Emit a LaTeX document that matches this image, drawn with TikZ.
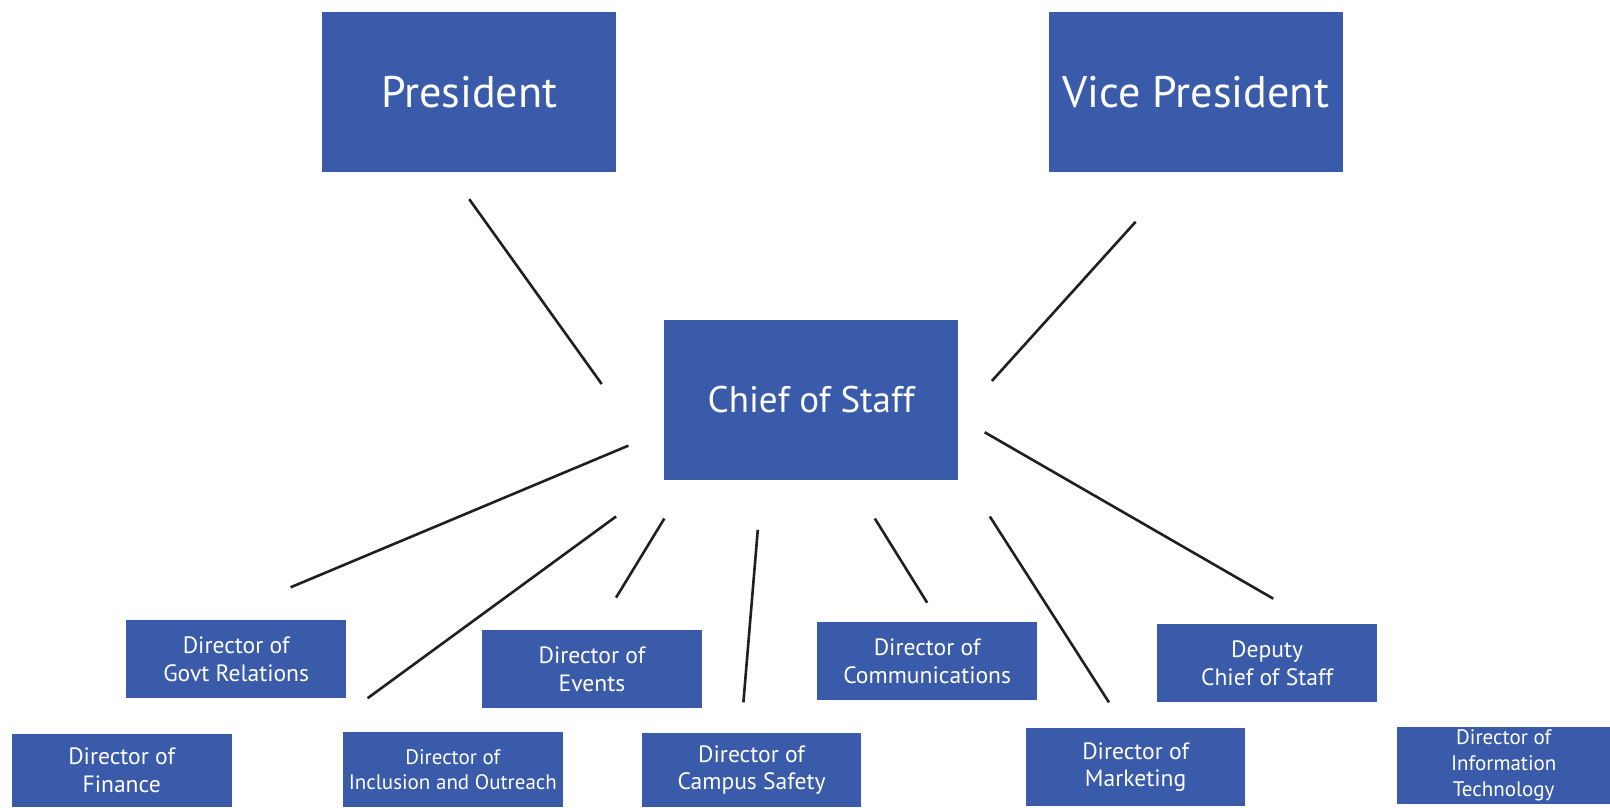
\documentclass[tikz,border=0pt]{standalone}
\usepackage{fontspec}
\setmainfont{PT Sans}
\definecolor{boxblue}{RGB}{58,91,169}

\begin{document}
\begin{tikzpicture}[x=1.0268pt,y=-1.0268pt,
    bigbox/.style={fill=boxblue, text=white, minimum width=293.7pt, minimum height=159.2pt,
      inner sep=0pt, align=center, font=\fontsize{44.2}{51}\selectfont},
    smallbox/.style={fill=boxblue, text=white, minimum width=219.7pt, minimum height=78pt,
      inner sep=0pt, align=center, font=\fontsize{23.6}{27.7}\selectfont},
    link/.style={line width=2.6pt, color=black!88}]
    \useasboundingbox (0,0) rectangle (1568,786);

    \node[bigbox] (pres) at (457,89.5) {President};
    \node[bigbox] (vp) at (1164.5,89.5) {Vice President};
    \node[bigbox, font=\fontsize{37}{43}\selectfont] (cos) at (790,389.5) {Chief of Staff};

    \node[smallbox] (govt) at (230,642) {Director of\\Govt Relations};
    \node[smallbox] (events) at (576.5,651.5) {Director of\\Events};
    \node[smallbox] (comms) at (903,644) {Director of\\Communications};
    \node[smallbox] (deputy) at (1234,646) {Deputy\\Chief of Staff};
    \node[smallbox, minimum height=72.9pt] (finance) at (118.5,750.5) {Director of\\Finance};
    \node[smallbox, minimum height=75pt, font=\fontsize{21}{25.7}\selectfont] (incl) at (441,749.5) {Director of\\Inclusion and Outreach};
    \node[smallbox, minimum height=73.9pt] (safety) at (732,750) {Director of\\Campus Safety};
    \node[smallbox] (market) at (1106,747) {Director of\\Marketing};
    \node[smallbox, minimum width=212.5pt, minimum height=77pt, font=\fontsize{21}{25.7}\selectfont] (infotech) at (1464.5,745.5) {Director of\\Information\\Technology};

    \coordinate (pres-a) at (457,194);   \coordinate (pres-b) at (586,374);
    \coordinate (vp-a) at (1106,216);    \coordinate (vp-b) at (966,371);
    \coordinate (govt-a) at (612,434);   \coordinate (govt-b) at (283,572);
    \coordinate (incl-a) at (600,503);   \coordinate (incl-b) at (358,680);
    \coordinate (events-a) at (647,505); \coordinate (events-b) at (600,582);
    \coordinate (safety-a) at (738,516); \coordinate (safety-b) at (724,684);
    \coordinate (comms-a) at (852,505);  \coordinate (comms-b) at (903,587);
    \coordinate (market-a) at (964,503); \coordinate (market-b) at (1080,684);
    \coordinate (deputy-a) at (959,421); \coordinate (deputy-b) at (1240,583);

    \foreach \n in {pres,vp,govt,incl,events,safety,comms,market,deputy}
        \draw[link] (\n-a) -- (\n-b);
\end{tikzpicture}
\end{document}
